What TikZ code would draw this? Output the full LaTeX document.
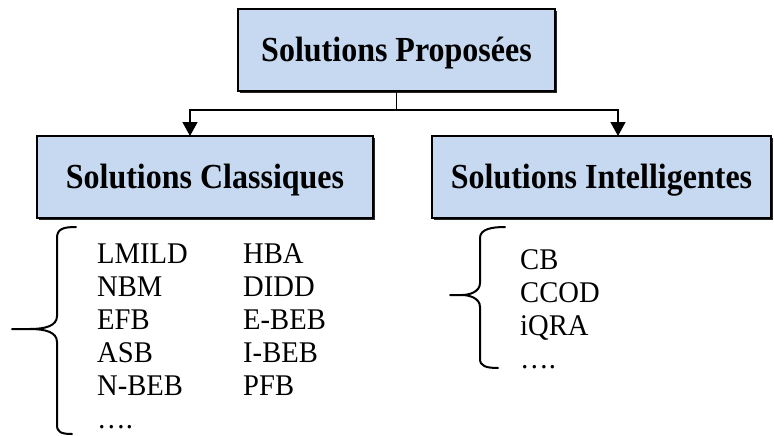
\documentclass[tikz,border=0pt]{standalone}
\usepackage{graphicx}
\usepackage{fontspec}
\setmainfont{Liberation Serif}
\usetikzlibrary{arrows.meta,shadows}
\definecolor{boxfill}{HTML}{C6D9F1}
\newcommand{\tallhead}[1]{\scalebox{1}[1.1]{#1}}
\newcommand{\tallitem}[1]{\scalebox{1}[1.05]{#1}}
\tikzset{
  catbox/.style={draw=black, line width=1.5pt, fill=boxfill, rectangle,
    minimum height=82pt, inner sep=0pt, text depth=0pt,
    drop shadow={shadow xshift=1.8pt, shadow yshift=-1.8pt, fill=black, opacity=0.85},
    font=\fontsize{32}{38}\selectfont\bfseries},
  item/.style={anchor=base west, inner sep=0pt, font=\fontsize{28.6}{34}\selectfont},
  link/.style={line width=1.4pt},
  arrowlink/.style={link, -{Triangle[width=15pt,length=14pt]}},
  bracepath/.style={line width=2pt, line cap=round, line join=round}
}
\begin{document}
\begin{tikzpicture}[x=1pt,y=-1pt]
\useasboundingbox (0,0) rectangle (774,436);

% category boxes
\node[catbox, minimum width=317pt, text height=24pt] (root) at (396.5,50)
  {\tallhead{Solutions Proposées}};
\node[catbox, minimum width=336pt, text height=22pt] (classic) at (205,177)
  {\tallhead{Solutions Classiques}};
\node[catbox, minimum width=339pt, text height=22pt] (smart) at (601.5,177)
  {\tallhead{Solutions Intelligentes}};

% tree connectors
\coordinate (bus) at (root.south |- 0,110);
\draw[link] (root.south) -- (bus);
\draw[arrowlink] (bus) -| (190,110) -- (190,136);
\draw[arrowlink] (bus) -| (618,110) -- (618,136);

% left brace
\draw[bracepath] (76,227) .. controls (63,227) and (57,229) .. (57,238)
  -- (57,316) .. controls (57,326) and (45,329) .. (30,329) -- (12,329)
  -- (30,329) .. controls (45,329) and (57,332) .. (57,342)
  -- (57,425) .. controls (57,432) and (61,434) .. (72,434);

% right brace
\draw[bracepath] (505,227) .. controls (492,227) and (480,229) .. (480,238)
  -- (480,283) .. controls (480,292) and (469,295) .. (462,295) -- (450,295)
  -- (462,295) .. controls (469,295) and (480,298) .. (480,307)
  -- (480,359) .. controls (480,366) and (486,368) .. (498,368);

% classic solutions
\node[item] (c1) at (97,263) {\tallitem{LMILD}};
\node[item] (c2) at (97,296) {\tallitem{NBM}};
\node[item] (c3) at (97,329) {\tallitem{EFB}};
\node[item] (c4) at (97,362) {\tallitem{ASB}};
\node[item] (c5) at (97,395) {\tallitem{N-BEB}};
\node[item] (c6) at (97,428) {\tallitem{….}};
\node[item] (d1) at (243,263) {\tallitem{HBA}};
\node[item] (d2) at (243,296) {\tallitem{DIDD}};
\node[item] (d3) at (243,329) {\tallitem{E-BEB}};
\node[item] (d4) at (243,362) {\tallitem{I-BEB}};
\node[item] (d5) at (243,395) {\tallitem{PFB}};

% intelligent solutions
\node[item] (s1) at (520,269) {\tallitem{CB}};
\node[item] (s2) at (520,302) {\tallitem{CCOD}};
\node[item] (s3) at (520,335) {\tallitem{iQRA}};
\node[item] (s4) at (520,368) {\tallitem{….}};
\end{tikzpicture}
\end{document}
